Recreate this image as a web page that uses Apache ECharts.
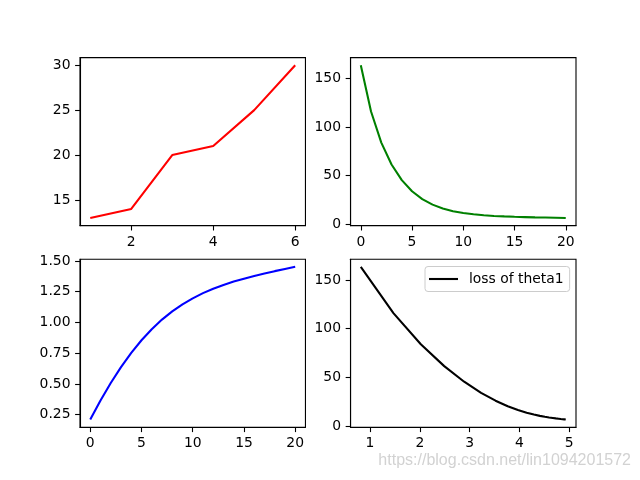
<!DOCTYPE html>
<html>
<head>
<meta charset="utf-8">
<script src="https://cdn.jsdelivr.net/npm/echarts@6/dist/echarts.min.js"></script>
<style>html,body{margin:0;padding:0;background:#fff}#c{width:640px;height:480px}</style>
</head>
<body>
<div id="c"></div>
<script>
// ---- data ----
const p1X = [1, 2, 3, 4, 5, 6];
const p1Y = [13, 14, 20, 21, 25, 30];
const iters = [0, 1, 2, 3, 4, 5, 6, 7, 8, 9, 10, 11, 12, 13, 14, 15, 16, 17, 18, 19, 20];
const lossVals = [163.5, 116, 84, 61.5, 45.5, 34, 26, 20.3, 16.4, 13.6, 11.7, 10.4, 9.4, 8.7, 8.2, 7.8, 7.5, 7.2, 7.0, 6.8, 6.6];
const theta0Vals = [0.21, 0.365, 0.507, 0.636, 0.752, 0.855, 0.945, 1.023, 1.09, 1.147, 1.196, 1.238, 1.274, 1.305, 1.332, 1.356, 1.378, 1.398, 1.417, 1.435, 1.452];
const theta1Vals = [0.815, 1.47, 2.02, 2.49, 2.89, 3.23, 3.52, 3.765, 3.97, 4.145, 4.29, 4.41, 4.51, 4.595, 4.67, 4.73, 4.785, 4.83, 4.87, 4.9, 4.93];
const p1XTicks = [2, 4, 6];
const p1YTicks = [15, 20, 25, 30];
const p2XTicks = [0, 5, 10, 15, 20];
const p2YTicks = [0, 50, 100, 150];
const p3XTicks = [0, 5, 10, 15, 20];
const p3YTicks = [0.25, 0.5, 0.75, 1.0, 1.25, 1.5];
const p4XTicks = [1, 2, 3, 4, 5];
const p4YTicks = [0, 50, 100, 150];
const legendLabel = 'loss of theta1';
const watermark = 'https://blog.csdn.net/lin1094201572';

function lim(arr) {
  const mn = Math.min(...arr), mx = Math.max(...arr), r = mx - mn;
  return [mn - 0.05 * r, mx + 0.05 * r];
}
function pairs(xs, ys) { return xs.map((x, i) => [x, ys[i]]); }

const FONT = 'DejaVu Sans';
const FS = 13.9;
function axis(gi, range, ticks, fmt) {
  return {
    type: 'value', gridIndex: gi, min: range[0], max: range[1],
    splitLine: { show: false },
    axisLine: { show: true, onZero: false, lineStyle: { color: '#000', width: 1.1 } },
    axisTick: { show: true, customValues: ticks, length: 4.9, inside: false, lineStyle: { color: '#000', width: 1.1 } },
    axisLabel: { show: true, customValues: ticks, margin: 9.5, color: '#000', fontFamily: FONT, fontSize: FS,
      formatter: fmt || (v => String(v)) }
  };
}

const W = 225.45, H = 168;
const grids = [
  { left: 80, top: 57.6, width: W, height: H },
  { left: 350.55, top: 57.6, width: W, height: H },
  { left: 80, top: 259.2, width: W, height: H },
  { left: 350.55, top: 259.2, width: W, height: H }
].map(g => Object.assign(g, { show: true, borderColor: '#000', borderWidth: 1.1, backgroundColor: '#fff', containLabel: false }));

const option = {
  animation: false,
  backgroundColor: '#fff',
  grid: grids,
  xAxis: [
    axis(0, [0.75, 6.25], p1XTicks),
    axis(1, lim(iters), p2XTicks),
    axis(2, lim(iters), p3XTicks),
    axis(3, lim(theta1Vals), p4XTicks)
  ],
  yAxis: [
    axis(0, lim(p1Y), p1YTicks),
    axis(1, lim(lossVals), p2YTicks),
    axis(2, lim(theta0Vals), p3YTicks, v => v.toFixed(2)),
    axis(3, lim(lossVals), p4YTicks)
  ],
  legend: {
    show: true, data: [{ name: legendLabel, icon: 'rect' }], left: 425, top: 266.5,
    backgroundColor: '#fff', borderColor: '#cccccc', borderWidth: 1, borderRadius: 3,
    padding: [5, 6, 5, 4], itemWidth: 29, itemHeight: 2.1,
    itemStyle: { color: '#000' },
    textStyle: { fontFamily: FONT, fontSize: FS, color: '#000', padding: [0, 0, 0, 6], lineHeight: 15 }
  },
  series: [
    { type: 'line', xAxisIndex: 0, yAxisIndex: 0, data: pairs(p1X, p1Y), symbol: 'none', lineStyle: { color: '#ff0000', width: 2.08 }, itemStyle: { color: '#ff0000' } },
    { type: 'line', xAxisIndex: 1, yAxisIndex: 1, data: pairs(iters, lossVals), symbol: 'none', lineStyle: { color: '#008000', width: 2.08 }, itemStyle: { color: '#008000' } },
    { type: 'line', xAxisIndex: 2, yAxisIndex: 2, data: pairs(iters, theta0Vals), symbol: 'none', lineStyle: { color: '#0000ff', width: 2.08 }, itemStyle: { color: '#0000ff' } },
    { type: 'line', name: legendLabel, xAxisIndex: 3, yAxisIndex: 3, data: pairs(theta1Vals, lossVals), symbol: 'none', lineStyle: { color: '#000', width: 2.08 }, itemStyle: { color: '#000' } }
  ],
  graphic: [
    { type: 'text', right: 9, top: 453, z: 100,
      style: { text: watermark, fill: '#d2d2d2', font: '16px "Liberation Sans"' } }
  ]
};
const chart = echarts.init(document.getElementById('c'), null, { renderer: 'canvas' });
chart.setOption(option);
</script>
</body>
</html>
